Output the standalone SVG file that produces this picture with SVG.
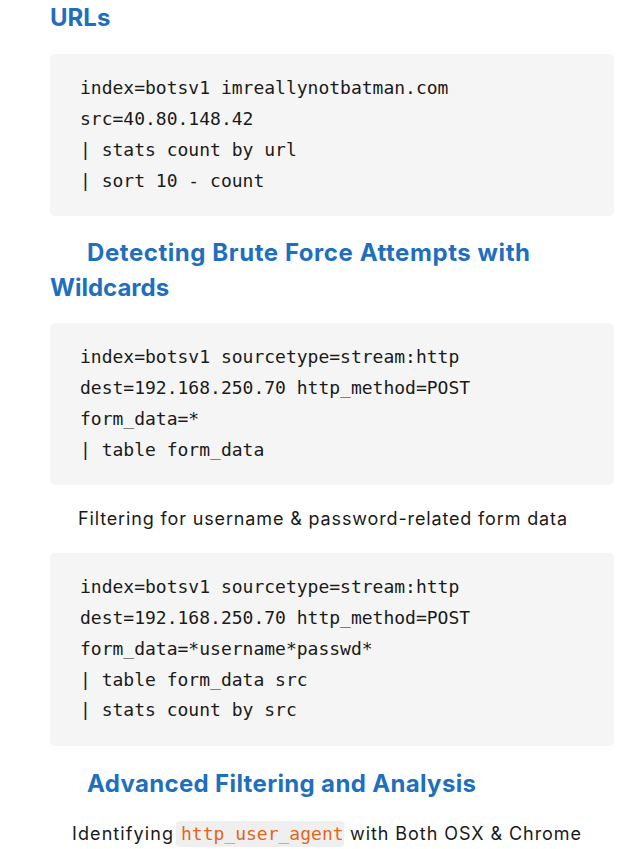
<svg xmlns="http://www.w3.org/2000/svg" width="637" height="849" viewBox="0 0 637 849">
<style>
.h{font-family:Inter,"Liberation Sans",sans-serif;font-weight:bold;font-size:24px;fill:#1f6fbf}
.c{font-family:"DejaVu Sans Mono","Liberation Mono",monospace;font-size:18px;fill:#1a1a1a}
.p{font-family:Inter,"Liberation Sans",sans-serif;font-size:18px;fill:#1a1a1a}
.box{fill:#f5f5f5}
</style>
<rect width="637" height="849" fill="#fff"/>
<text class="h" x="50" y="26">URLs</text>
<rect class="box" x="50" y="54" width="564" height="162" rx="5"/>
<text class="c" x="80" y="94">index=botsv1 imreallynotbatman.com</text>
<text class="c" x="80" y="125">src=40.80.148.42</text>
<text class="c" x="80" y="156">| stats count by url</text>
<text class="c" x="80" y="187">| sort 10 - count</text>
<text class="h" x="87" y="261" textLength="443">Detecting Brute Force Attempts with</text>
<text class="h" x="50" y="296">Wildcards</text>
<rect class="box" x="50" y="323" width="564" height="162" rx="5"/>
<text class="c" x="80" y="363">index=botsv1 sourcetype=stream:http</text>
<text class="c" x="80" y="394">dest=192.168.250.70 http_method=POST</text>
<text class="c" x="80" y="425">form_data=*</text>
<text class="c" x="80" y="456">| table form_data</text>
<text class="p" x="78" y="525" textLength="489">Filtering for username &amp; password-related form data</text>
<rect class="box" x="50" y="553" width="564" height="193" rx="5"/>
<text class="c" x="80" y="593">index=botsv1 sourcetype=stream:http</text>
<text class="c" x="80" y="624">dest=192.168.250.70 http_method=POST</text>
<text class="c" x="80" y="655">form_data=*username*passwd*</text>
<text class="c" x="80" y="686">| table form_data src</text>
<text class="c" x="80" y="716">| stats count by src</text>
<text class="h" x="87" y="792" textLength="389">Advanced Filtering and Analysis</text>
<text class="p" x="72" y="840" textLength="101">Identifying</text>
<rect x="176" y="821" width="168" height="26" rx="4" fill="#efefef"/>
<text class="c" x="181" y="840" style="fill:#e0661b">http_user_agent</text>
<text class="p" x="350" y="840" textLength="231">with Both OSX &amp; Chrome</text>
</svg>
